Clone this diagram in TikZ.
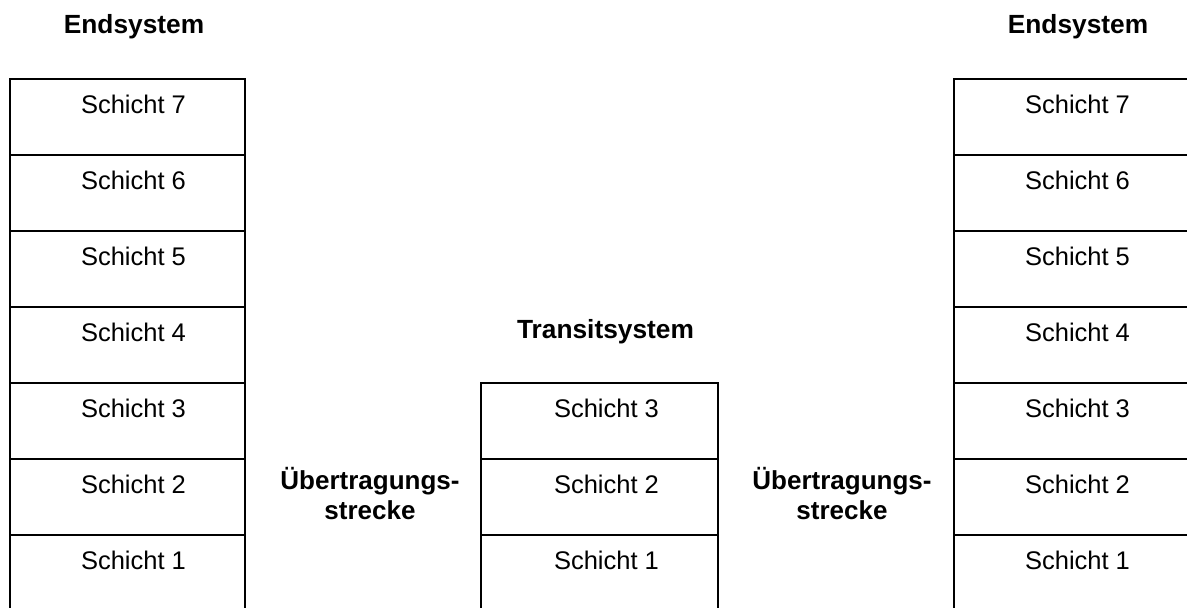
\documentclass[tikz,border=0pt]{standalone}
\usepackage{fontspec}
\setmainfont{Liberation Sans}
\begin{document}
\begin{tikzpicture}[x=1pt,y=-1pt,
  cell/.style={draw, line width=2pt, anchor=north west, inner sep=0pt,
    minimum width=#1, text height=34pt, text depth=42pt,
    font=\fontsize{25.5pt}{30pt}\selectfont},
  cell/.default=235pt,
  title/.style={anchor=base, inner sep=0pt, font=\fontsize{26.3pt}{30pt}\selectfont\bfseries},
  link/.style={anchor=base, inner sep=0pt, align=center, font=\fontsize{26pt}{30pt}\selectfont\bfseries}]
\useasboundingbox[fill=white] (0,0) rectangle (1187,608);
% left end system
\foreach \n/\y in {7/78,6/154,5/230,4/306,3/382,2/458,1/534}{
  \node[cell] (L\n) at (9,\y) {\kern12pt Schicht \n};
}
% right end system
\foreach \n/\y in {7/78,6/154,5/230,4/306,3/382,2/458,1/534}{
  \node[cell] (R\n) at (953,\y) {\kern12pt Schicht \n};
}
% transit system
\foreach \n/\y in {3/382,2/458,1/534}{
  \node[cell=237pt] (T\n) at (480,\y) {\kern14pt Schicht \n};
}
\node[title] (tl) at (134,33) {Endsystem};
\node[title] (tr) at (1078,33) {Endsystem};
\node[title] (tt) at (605.5,338) {Transitsystem};
\node[link] (ul) at (370,519) {Übertragungs-\\strecke};
\node[link] (ur) at (842,519) {Übertragungs-\\strecke};
\end{tikzpicture}
\end{document}
